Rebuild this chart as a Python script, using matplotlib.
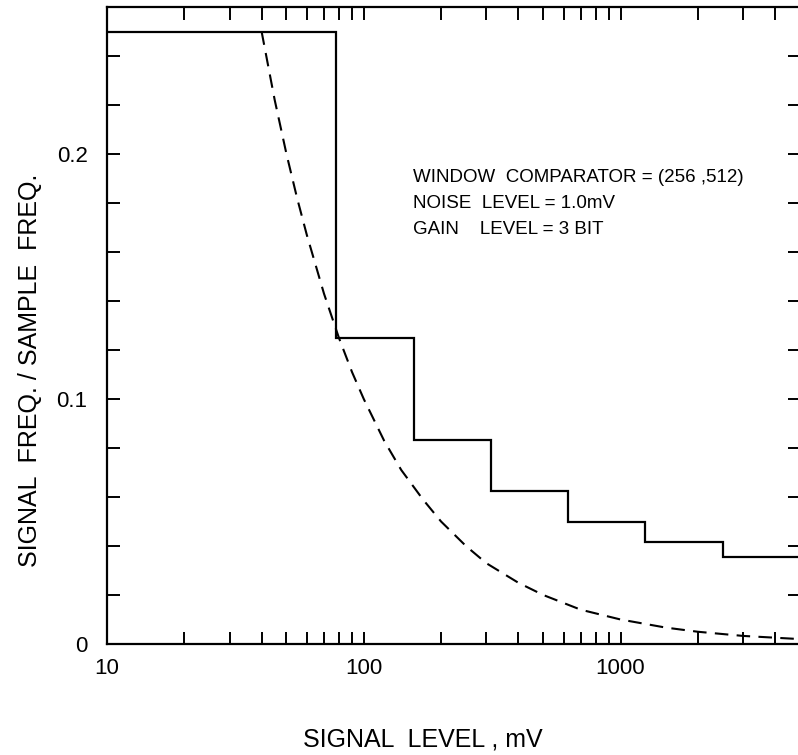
import matplotlib
matplotlib.use("Agg")
import matplotlib.pyplot as plt
from matplotlib.ticker import FixedLocator, LogLocator, MultipleLocator, NullFormatter

plt.rcParams['font.family'] = ['Liberation Sans', 'DejaVu Sans']

# staircase: bin edges (mV) and level in each bin
step_edges = [10, 78.125, 156.25, 312.5, 625, 1250, 2500, 5000]
step_levels = [0.25, 0.125, 0.0833, 0.0625, 0.05, 0.0417, 0.0357]

# dashed curve
curve_x = [40, 45, 50, 55, 60, 70, 80, 90, 100, 120, 140, 170, 200, 250,
           300, 400, 500, 700, 1000, 1500, 2000, 3000, 5000]
curve_y = [0.250, 0.222, 0.200, 0.182, 0.167, 0.143, 0.125, 0.111, 0.100,
           0.083, 0.071, 0.059, 0.050, 0.040, 0.033, 0.025, 0.020, 0.014,
           0.010, 0.0067, 0.005, 0.0033, 0.002]

x_ticks = [10, 100, 1000]
x_ticklabels = ['10', '100', '1000']
y_ticks = [0, 0.1, 0.2]
y_ticklabels = ['0', '0.1', '0.2']

notes = ['WINDOW  COMPARATOR = (256 ,512)',
         'NOISE  LEVEL = 1.0mV',
         'GAIN    LEVEL = 3 BIT']

fig = plt.figure(figsize=(7.98, 7.55), dpi=100)
ax = fig.add_axes([107 / 798, 1 - 644 / 755, 693 / 798, (644 - 7) / 755])

ax.stairs(step_levels, step_edges, baseline=None, color='black', lw=1.6)
ax.plot(curve_x, curve_y, color='black', lw=1.5, linestyle=(0, (6.5, 4)))

ax.set_xscale('log')
ax.set_xlim(10, 5000)
ax.set_ylim(0, 0.26)

ax.xaxis.set_major_locator(FixedLocator(x_ticks))
ax.set_xticklabels(x_ticklabels)
ax.xaxis.set_minor_locator(LogLocator(base=10, subs=range(2, 10)))
ax.xaxis.set_minor_formatter(NullFormatter())
ax.yaxis.set_major_locator(FixedLocator(y_ticks))
ax.set_yticklabels(y_ticklabels)
ax.yaxis.set_minor_locator(MultipleLocator(0.02))

ax.tick_params(which='both', direction='in', top=True, right=True,
               length=9, width=1.4, labelsize=16)
ax.tick_params(axis='x', pad=10)
ax.tick_params(axis='y', pad=14)
for s in ax.spines.values():
    s.set_linewidth(1.6)

for i, t in enumerate(notes):
    fig.text(413 / 798, 1 - (178 + 25.5 * i) / 755, t, fontsize=13.5,
             ha='left', va='center')

fig.text(423 / 798, 1 - 739 / 755, 'SIGNAL  LEVEL , mV', fontsize=18,
         ha='center', va='center')
fig.text(30 / 798, 1 - 370 / 755, 'SIGNAL  FREQ. / SAMPLE  FREQ.', fontsize=18,
         rotation=90, ha='center', va='center')

fig.savefig('out.png', dpi=100)
